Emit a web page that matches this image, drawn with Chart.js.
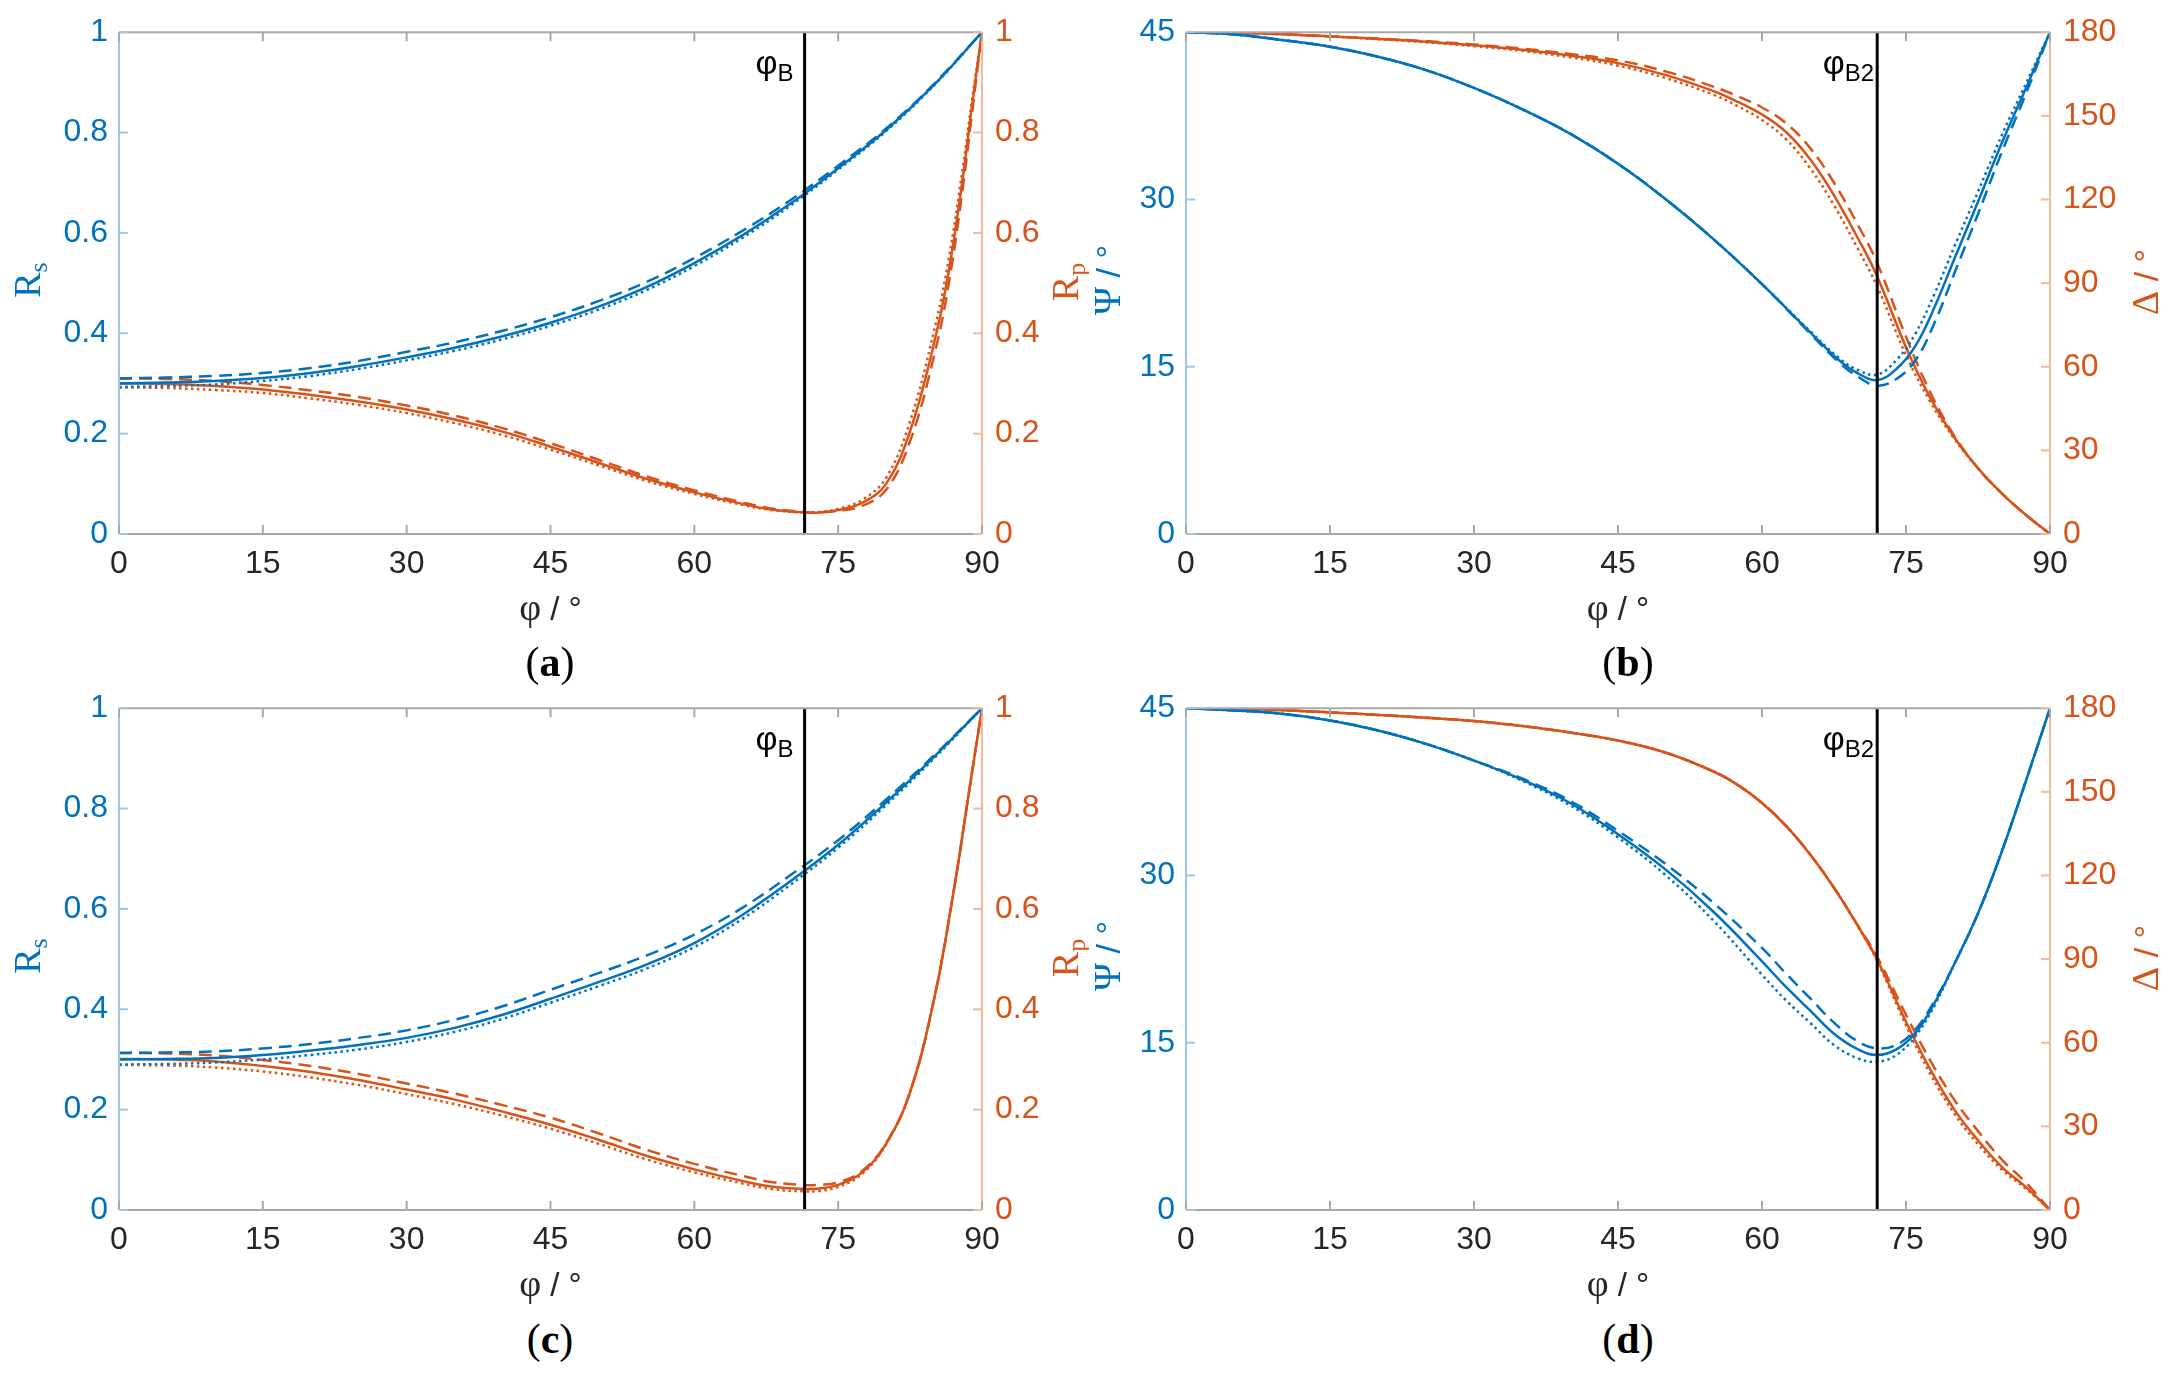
<!DOCTYPE html>
<html lang="en">
<head>
<meta charset="UTF-8">
<title>Rs, Rp, Psi and Delta versus angle of incidence</title>
<script src="https://cdn.jsdelivr.net/npm/chart.js"></script>
<style>
  body { margin: 0; background: #fff; width: 2178px; height: 1377px; position: relative; overflow: hidden; }
  canvas { position: absolute; }
  .cap { position: absolute; font-family: 'Liberation Serif', serif; font-size: 42px; line-height: 1; color: #000; transform: translate(-50%, -50%); }
</style>
</head>
<body>
<canvas id="pa" width="1089" height="640" style="left:0;top:0"></canvas>
<canvas id="pb" width="1089" height="640" style="left:1089px;top:0"></canvas>
<canvas id="pc" width="1089" height="640" style="left:0;top:676px"></canvas>
<canvas id="pd" width="1089" height="640" style="left:1089px;top:676px"></canvas>
<div class="cap" style="left:550px;top:662px">(<b>a</b>)</div>
<div class="cap" style="left:1628px;top:662px">(<b>b</b>)</div>
<div class="cap" style="left:550px;top:1339px">(<b>c</b>)</div>
<div class="cap" style="left:1628px;top:1339px">(<b>d</b>)</div>

<script>
// tick values
const xTicks = [0, 15, 30, 45, 60, 75, 90];
const rTicks = [0, 0.2, 0.4, 0.6, 0.8, 1];
const psiTicks = [0, 15, 30, 45];
const deltaTicks = [0, 30, 60, 90, 120, 150, 180];

// Brewster angles (vertical lines)
const brewster = [71.5, 72, 71.5, 72];

// (a) Rs / Rp
const phiRs = [0, 5, 10, 15, 20, 25, 30, 35, 40, 45, 50, 55, 60, 65, 70, 75, 80, 85, 90];
const rsA_solid = [0.300, 0.302, 0.305, 0.311, 0.321, 0.335, 0.352, 0.371, 0.394, 0.421, 0.453, 0.492, 0.540, 0.595, 0.658, 0.729, 0.805, 0.895, 1.000];
const rsA_dash  = [0.310, 0.312, 0.315, 0.321, 0.331, 0.345, 0.363, 0.382, 0.405, 0.432, 0.464, 0.502, 0.550, 0.604, 0.665, 0.734, 0.808, 0.897, 1.000];
const rsA_dot   = [0.293, 0.295, 0.298, 0.305, 0.315, 0.329, 0.346, 0.365, 0.388, 0.415, 0.447, 0.486, 0.534, 0.590, 0.654, 0.726, 0.803, 0.894, 1.000];

const phiRpA = [0, 5, 10, 15, 20, 25, 30, 35, 40, 45, 50, 55, 60, 65, 68, 71.5, 73, 75, 77.5, 80, 82.5, 85, 86.5, 88, 89, 90];
const rpA_solid = [0.300, 0.299, 0.295, 0.288, 0.277, 0.264, 0.248, 0.228, 0.204, 0.174, 0.142, 0.110, 0.083, 0.060, 0.049, 0.043, 0.043, 0.048, 0.062, 0.100, 0.205, 0.380, 0.520, 0.710, 0.860, 1.000];
const rpA_dash  = [0.310, 0.309, 0.305, 0.297, 0.286, 0.273, 0.256, 0.236, 0.211, 0.181, 0.148, 0.115, 0.087, 0.063, 0.051, 0.044, 0.043, 0.046, 0.056, 0.088, 0.185, 0.355, 0.495, 0.690, 0.845, 1.000];
const rpA_dot   = [0.292, 0.291, 0.287, 0.281, 0.270, 0.257, 0.241, 0.221, 0.197, 0.168, 0.137, 0.106, 0.080, 0.058, 0.048, 0.043, 0.044, 0.050, 0.068, 0.112, 0.225, 0.405, 0.545, 0.730, 0.870, 1.000];

// (c) Rs / Rp
const rsC_solid = [0.300, 0.301, 0.303, 0.309, 0.318, 0.329, 0.343, 0.363, 0.389, 0.421, 0.454, 0.489, 0.532, 0.588, 0.655, 0.728, 0.812, 0.903, 1.000];
const rsC_dash  = [0.313, 0.314, 0.316, 0.322, 0.331, 0.343, 0.358, 0.379, 0.406, 0.439, 0.472, 0.507, 0.549, 0.602, 0.667, 0.737, 0.818, 0.906, 1.000];
const rsC_dot   = [0.290, 0.291, 0.294, 0.300, 0.309, 0.320, 0.335, 0.355, 0.381, 0.413, 0.446, 0.481, 0.524, 0.580, 0.648, 0.722, 0.807, 0.900, 1.000];

const phiRpC = [0, 5, 10, 15, 20, 25, 30, 35, 40, 45, 50, 55, 60, 65, 68, 71.5, 73, 75, 77.5, 80, 82.5, 85, 87, 88.7, 90];
const rpC_solid = [0.301, 0.300, 0.296, 0.287, 0.275, 0.259, 0.240, 0.220, 0.196, 0.170, 0.140, 0.108, 0.081, 0.058, 0.047, 0.042, 0.043, 0.050, 0.075, 0.132, 0.235, 0.420, 0.630, 0.840, 1.000];
const rpC_dash  = [0.313, 0.312, 0.308, 0.299, 0.287, 0.271, 0.252, 0.232, 0.209, 0.184, 0.153, 0.120, 0.092, 0.068, 0.056, 0.050, 0.050, 0.055, 0.078, 0.133, 0.235, 0.420, 0.630, 0.840, 1.000];
const rpC_dot   = [0.289, 0.288, 0.284, 0.276, 0.264, 0.249, 0.231, 0.211, 0.188, 0.162, 0.132, 0.101, 0.075, 0.053, 0.042, 0.037, 0.038, 0.046, 0.072, 0.131, 0.235, 0.420, 0.630, 0.840, 1.000];

// (b) Psi / Delta
const phiPsiB = [0, 5, 10, 15, 20, 25, 30, 35, 40, 45, 50, 55, 60, 65, 68, 70, 72, 74, 76, 78, 80, 82.5, 85, 87.5, 90];
const psiB_solid = [45, 44.8, 44.3, 43.7, 42.8, 41.6, 40.0, 38.1, 35.9, 33.2, 30.0, 26.4, 22.4, 18.1, 15.6, 14.4, 13.8, 14.8, 16.9, 20.4, 24.6, 29.8, 35.1, 40.0, 45];
const psiB_dash  = [45, 44.8, 44.3, 43.7, 42.8, 41.6, 40.0, 38.1, 35.9, 33.2, 30.0, 26.4, 22.4, 18.0, 15.4, 14.1, 13.3, 13.9, 15.6, 19.0, 23.3, 28.7, 34.3, 39.5, 45];
const psiB_dot   = [45, 44.8, 44.3, 43.7, 42.8, 41.6, 40.0, 38.1, 35.9, 33.2, 30.0, 26.4, 22.4, 18.2, 15.8, 14.7, 14.3, 15.6, 18.0, 21.6, 25.7, 30.7, 35.8, 40.4, 45];

const phiDelta = [0, 5, 10, 15, 20, 25, 30, 35, 40, 45, 50, 55, 57.5, 60, 62.5, 65, 67.5, 70, 72, 75, 77.5, 80, 82.5, 85, 87.5, 90];
const deltaB_solid = [180, 179.8, 179.3, 178.5, 177.6, 176.6, 175.3, 173.7, 171.6, 168.9, 164.6, 158.8, 155.0, 150.5, 144.2, 134.5, 121.5, 106.0, 92.4, 67.0, 49.0, 34.8, 23.6, 14.5, 6.8, 0];
const deltaB_dash  = [180, 179.8, 179.3, 178.5, 177.7, 176.8, 175.6, 174.1, 172.2, 169.9, 165.9, 160.4, 157.0, 153.0, 147.4, 138.5, 126.0, 110.8, 97.2, 70.8, 51.0, 35.4, 23.6, 14.5, 6.8, 0];
const deltaB_dot   = [180, 179.8, 179.3, 178.5, 177.5, 176.4, 175.0, 173.3, 171.0, 168.0, 163.5, 157.5, 153.4, 148.5, 141.6, 131.3, 117.9, 102.2, 88.8, 64.2, 47.6, 34.3, 23.6, 14.5, 6.8, 0];

// (d) Psi / Delta
const phiPsiD = [0, 5, 10, 15, 20, 25, 30, 35, 40, 45, 50, 55, 60, 62.5, 65, 67.5, 70, 72, 74, 76, 78, 80, 82.5, 85, 87.5, 90];
const psiD_solid = [45, 44.8, 44.5, 43.9, 43.0, 41.8, 40.3, 38.6, 36.5, 33.7, 30.5, 26.7, 22.3, 20.0, 17.9, 15.8, 14.4, 13.9, 14.4, 15.9, 18.6, 22.0, 26.6, 32.2, 38.5, 45];
const psiD_dash  = [45, 44.8, 44.5, 43.9, 43.0, 41.8, 40.3, 38.7, 36.7, 34.0, 31.0, 27.5, 23.5, 21.2, 19.0, 16.8, 15.1, 14.5, 14.8, 16.2, 18.8, 22.0, 26.6, 32.2, 38.5, 45];
const psiD_dot   = [45, 44.8, 44.5, 43.9, 43.0, 41.8, 40.3, 38.5, 36.3, 33.4, 30.0, 25.9, 21.1, 18.8, 16.8, 14.8, 13.6, 13.3, 13.9, 15.6, 18.4, 22.0, 26.6, 32.2, 38.5, 45];

const deltaD_solid = [180, 179.8, 179.3, 178.5, 177.6, 176.6, 175.4, 173.6, 171.3, 168.4, 164.0, 157.2, 152.4, 146.0, 137.8, 127.6, 115.6, 101.8, 89.8, 67.5, 50.6, 36.2, 25.0, 15.4, 8.2, 0];
const deltaD_dash  = [180, 179.8, 179.3, 178.5, 177.6, 176.6, 175.4, 173.6, 171.3, 168.4, 164.0, 157.2, 152.4, 146.0, 137.8, 127.6, 115.6, 102.0, 90.8, 70.0, 53.8, 39.7, 28.3, 18.0, 9.8, 0];
const deltaD_dot   = [180, 179.8, 179.3, 178.5, 177.6, 176.6, 175.4, 173.6, 171.3, 168.4, 164.0, 157.2, 152.4, 146.0, 137.8, 127.6, 115.6, 101.6, 89.3, 66.2, 49.0, 34.7, 23.6, 14.4, 7.6, 0];

const BLUE = '#0072BD', ORANGE = '#D95319', INK = '#262626';
const BLUE_AX = '#9cc7e8', ORANGE_AX = '#f4b99c', GREY = '#a8a8a8';
const SOLID = [], DASH = [13, 7], DOT = [2.5, 3.5];
const TICK = 9;
const SERIF = '"Liberation Serif", serif', SANS = '"Liberation Sans", sans-serif';

Chart.defaults.font.family = SANS;

function line(phi, vals, color, dash, axis) {
  return {
    data: phi.map((p, i) => ({ x: p, y: vals[i] })),
    borderColor: color, borderWidth: 2.5, borderDash: dash,
    pointRadius: 0, yAxisID: axis, tension: 0.4, fill: false, order: 1
  };
}

function vline(x, yMax) {
  return {
    data: [{ x: x, y: 0 }, { x: x, y: yMax }],
    borderColor: '#000', borderWidth: 3, pointRadius: 0, yAxisID: 'y', order: 0
  };
}

function drawRuns(ctx, runs, x, y, rot, align) {
  ctx.save();
  ctx.translate(x, y);
  if (rot) ctx.rotate(rot);
  ctx.textBaseline = 'alphabetic';
  ctx.textAlign = 'left';
  let w = 0;
  runs.forEach(r => { ctx.font = r.font; w += ctx.measureText(r.t).width; });
  let cx = align === 'right' ? -w : -w / 2;
  runs.forEach(r => {
    ctx.font = r.font;
    ctx.fillStyle = r.color;
    ctx.fillText(r.t, cx, r.dy || 0);
    cx += ctx.measureText(r.t).width;
  });
  ctx.restore();
}

// frame, inward ticks, axis titles and the Brewster label
const deco = {
  id: 'deco',
  afterDraw(chart, args, o) {
    const { ctx, chartArea: a } = chart;
    const sx = chart.scales.x, sl = chart.scales.y, sr = chart.scales.y2;
    ctx.save();
    ctx.lineWidth = 2;
    const seg = (x1, y1, x2, y2, c) => {
      ctx.strokeStyle = c; ctx.beginPath(); ctx.moveTo(x1, y1); ctx.lineTo(x2, y2); ctx.stroke();
    };
    seg(a.left, a.bottom, a.right, a.bottom, GREY);
    seg(a.left, a.top, a.right, a.top, GREY);
    seg(a.left, a.top, a.left, a.bottom, BLUE_AX);
    seg(a.right, a.top, a.right, a.bottom, ORANGE_AX);
    sx.ticks.forEach(t => {
      const p = sx.getPixelForValue(t.value);
      seg(p, a.bottom, p, a.bottom - TICK, GREY);
      seg(p, a.top, p, a.top + TICK, GREY);
    });
    sl.ticks.forEach(t => { const p = sl.getPixelForValue(t.value); seg(a.left, p, a.left + TICK, p, BLUE_AX); });
    sr.ticks.forEach(t => { const p = sr.getPixelForValue(t.value); seg(a.right, p, a.right - TICK, p, ORANGE_AX); });

    drawRuns(ctx, o.leftTitle, o.leftX, 280, -Math.PI / 2);
    drawRuns(ctx, o.rightTitle, o.rightX, 282, -Math.PI / 2);
    drawRuns(ctx, [
      { t: 'φ', font: '38px ' + SERIF, color: INK },
      { t: ' / °', font: '33px ' + SANS, color: INK }
    ], (a.left + a.right) / 2, 620, 0);

    const mx = sx.getPixelForValue(o.mark) - o.gap;
    drawRuns(ctx, [
      { t: 'φ', font: '34px ' + SANS, color: '#000' },
      { t: o.sub, font: '24px ' + SANS, color: '#000', dy: 7 }
    ], mx, a.top + 42, 0, 'right');
    ctx.restore();
  }
};

function axisY(pos, max, ticks, color, width) {
  return {
    type: 'linear', position: pos, min: 0, max: max,
    afterBuildTicks: s => { s.ticks = ticks.map(v => ({ value: v })); },
    afterFit: s => { s.width = width; },
    grid: { display: false, drawTicks: false }, border: { display: false },
    ticks: { color: color, font: { size: 32 }, padding: pos === 'left' ? 11 : 13, callback: v => String(v) }
  };
}

function panel(id, p) {
  return new Chart(document.getElementById(id), {
    type: 'line',
    data: { datasets: [vline(p.mark, p.yMax)].concat(p.series) },
    options: {
      responsive: false,
      animation: false,
      layout: { padding: { top: 28, left: 0, right: 0, bottom: 0 } },
      plugins: { legend: { display: false }, tooltip: { enabled: false }, deco: p.deco },
      scales: {
        x: {
          type: 'linear', min: 0, max: 90,
          afterBuildTicks: s => { s.ticks = xTicks.map(v => ({ value: v })); },
          afterFit: s => { s.height = 106; },
          grid: { display: false, drawTicks: false }, border: { display: false },
          ticks: { color: INK, font: { size: 32 }, padding: 11, callback: v => String(v) }
        },
        y: axisY('left', p.yMax, p.yTicks, BLUE, p.leftW),
        y2: axisY('right', p.y2Max, p.y2Ticks, ORANGE, p.rightW)
      }
    },
    plugins: [deco]
  });
}

const rsTitle = [{ t: 'R', font: '38px ' + SERIF, color: BLUE }, { t: 's', font: '26px ' + SERIF, color: BLUE, dy: 7 }];
const rpTitle = [{ t: 'R', font: '38px ' + SERIF, color: ORANGE }, { t: 'p', font: '26px ' + SERIF, color: ORANGE, dy: 7 }];
const psiTitle = [{ t: 'Ψ', font: '38px ' + SERIF, color: BLUE }, { t: ' / °', font: '34px ' + SANS, color: BLUE }];
const deltaTitle = [{ t: 'Δ', font: '38px ' + SERIF, color: ORANGE }, { t: ' / °', font: '34px ' + SANS, color: ORANGE }];

panel('pa', {
  mark: brewster[0], yMax: 1, yTicks: rTicks, y2Max: 1, y2Ticks: rTicks, leftW: 119, rightW: 107,
  series: [
    line(phiRs, rsA_solid, BLUE, SOLID, 'y'), line(phiRs, rsA_dash, BLUE, DASH, 'y'), line(phiRs, rsA_dot, BLUE, DOT, 'y'),
    line(phiRpA, rpA_solid, ORANGE, SOLID, 'y2'), line(phiRpA, rpA_dash, ORANGE, DASH, 'y2'), line(phiRpA, rpA_dot, ORANGE, DOT, 'y2')
  ],
  deco: { leftTitle: rsTitle, leftX: 40, rightTitle: rpTitle, rightX: 1078, mark: brewster[0], gap: 11, sub: 'B' }
});

panel('pb', {
  mark: brewster[1], yMax: 45, yTicks: psiTicks, y2Max: 180, y2Ticks: deltaTicks, leftW: 97, rightW: 128,
  series: [
    line(phiPsiB, psiB_solid, BLUE, SOLID, 'y'), line(phiPsiB, psiB_dash, BLUE, DASH, 'y'), line(phiPsiB, psiB_dot, BLUE, DOT, 'y'),
    line(phiDelta, deltaB_solid, ORANGE, SOLID, 'y2'), line(phiDelta, deltaB_dash, ORANGE, DASH, 'y2'), line(phiDelta, deltaB_dot, ORANGE, DOT, 'y2')
  ],
  deco: { leftTitle: psiTitle, leftX: 31, rightTitle: deltaTitle, rightX: 1069, mark: brewster[1], gap: 3, sub: 'B2' }
});

panel('pc', {
  mark: brewster[2], yMax: 1, yTicks: rTicks, y2Max: 1, y2Ticks: rTicks, leftW: 119, rightW: 107,
  series: [
    line(phiRs, rsC_solid, BLUE, SOLID, 'y'), line(phiRs, rsC_dash, BLUE, DASH, 'y'), line(phiRs, rsC_dot, BLUE, DOT, 'y'),
    line(phiRpC, rpC_solid, ORANGE, SOLID, 'y2'), line(phiRpC, rpC_dash, ORANGE, DASH, 'y2'), line(phiRpC, rpC_dot, ORANGE, DOT, 'y2')
  ],
  deco: { leftTitle: rsTitle, leftX: 40, rightTitle: rpTitle, rightX: 1078, mark: brewster[2], gap: 11, sub: 'B' }
});

panel('pd', {
  mark: brewster[3], yMax: 45, yTicks: psiTicks, y2Max: 180, y2Ticks: deltaTicks, leftW: 97, rightW: 128,
  series: [
    line(phiPsiD, psiD_solid, BLUE, SOLID, 'y'), line(phiPsiD, psiD_dash, BLUE, DASH, 'y'), line(phiPsiD, psiD_dot, BLUE, DOT, 'y'),
    line(phiDelta, deltaD_solid, ORANGE, SOLID, 'y2'), line(phiDelta, deltaD_dash, ORANGE, DASH, 'y2'), line(phiDelta, deltaD_dot, ORANGE, DOT, 'y2')
  ],
  deco: { leftTitle: psiTitle, leftX: 31, rightTitle: deltaTitle, rightX: 1069, mark: brewster[3], gap: 3, sub: 'B2' }
});
</script>
</body>
</html>
